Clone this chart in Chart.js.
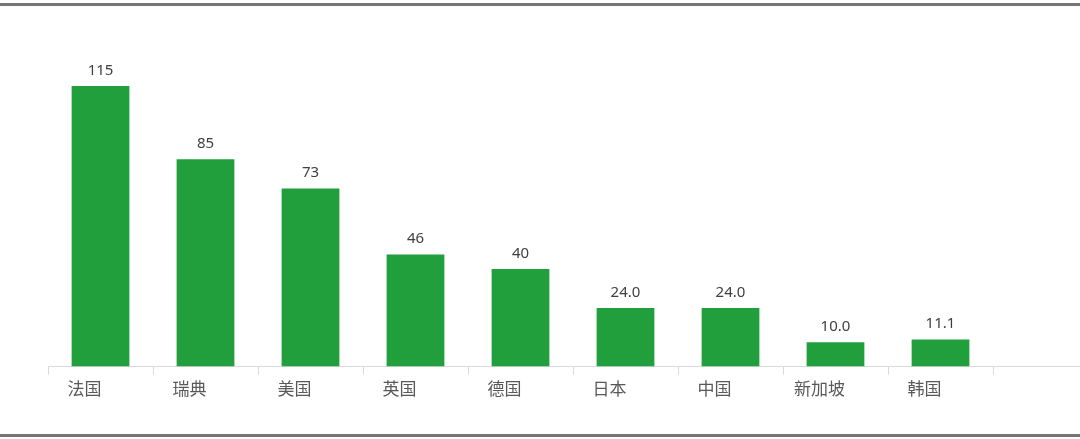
<!DOCTYPE html>
<html>
<head>
<meta charset="utf-8">
<script src="https://cdn.jsdelivr.net/npm/chart.js@4/dist/chart.umd.min.js"></script>
<style>
  html, body { margin: 0; padding: 0; background: #fff; overflow: hidden; }
  #wrap { position: relative; width: 1080px; height: 439px; overflow: hidden; }
  #box { position: absolute; left: 0; top: 0; width: 1100px; height: 439px; }
  .rule { position: absolute; left: 0; width: 1080px; height: 3px; background: #767676; }
</style>
</head>
<body>
<div id="wrap">
  <div id="box"><canvas id="myChart"></canvas></div>
  <div class="rule" style="top:3px"></div>
  <div class="rule" style="top:434px"></div>
</div>
<script>
// categories + values (last slot is the empty tail of the axis)
let kraje = ['法国', '瑞典', '美国', '英国', '德国', '日本', '中国', '新加坡', '韩国', ''];
let wartosci = [115, 85, 73, 46, 40, 24.0, 24.0, 10.0, 11.1, null];
let etykiety = ['115', '85', '73', '46', '40', '24.0', '24.0', '10.0', '11.1', ''];

// value text above every bar
const napisyNadSlupkami = {
    id: 'napisy',
    afterDatasetsDraw(chart) {
        const ctx = chart.ctx;
        const meta = chart.getDatasetMeta(0);
        ctx.save();
        ctx.font = '15px "Noto Sans", "DejaVu Sans", sans-serif';
        ctx.fillStyle = '#404040';
        ctx.textAlign = 'center';
        ctx.textBaseline = 'bottom';
        meta.data.forEach((bar, i) => {
            if (wartosci[i] == null) return;
            ctx.fillText(etykiety[i], bar.x, bar.y - 8);
        });
        ctx.restore();
    }
};

let ctx = document.getElementById('myChart').getContext('2d');
let wykres = new Chart(ctx, {
    type: 'bar',
    data: {
        labels: kraje,
        datasets: [{
            data: wartosci,
            backgroundColor: '#219f3c',
            borderWidth: 0,
            barPercentage: 0.55,
            categoryPercentage: 1.0
        }]
    },
    options: {
        responsive: true,
        maintainAspectRatio: false,
        animation: false,
        layout: { padding: { left: 48, right: 2, top: 30, bottom: 36 } },
        plugins: {
            legend: { display: false },
            tooltip: { enabled: false }
        },
        scales: {
            x: {
                offset: true,
                grid: {
                    offset: true,
                    drawOnChartArea: false,
                    color: '#d9d9d9',
                    tickLength: 8
                },
                border: { color: '#d9d9d9', width: 1 },
                ticks: {
                    color: '#595959',
                    font: { family: '"Noto Sans CJK SC", sans-serif', size: 17 },
                    labelOffset: -16,
                    padding: 4,
                    maxRotation: 0
                }
            },
            y: {
                display: false,
                min: 0,
                max: 138
            }
        }
    },
    plugins: [napisyNadSlupkami]
});
</script>
</body>
</html>
